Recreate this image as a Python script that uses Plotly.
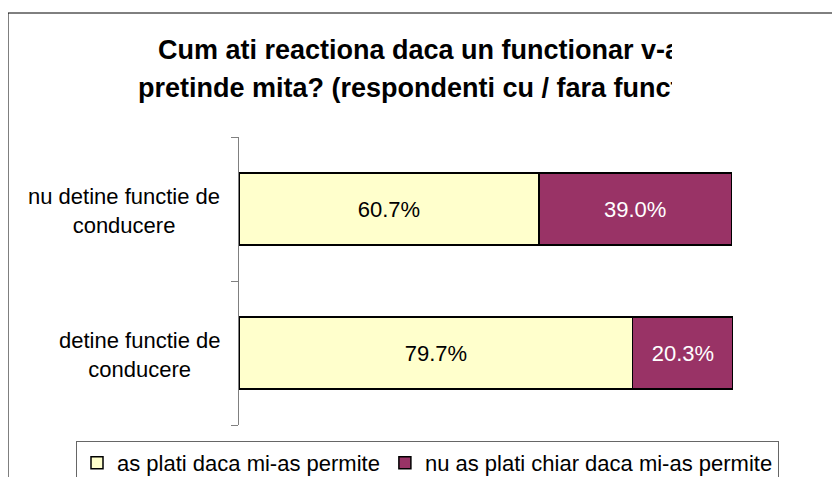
import plotly.graph_objects as go

# ---- data ----
categories = ["detine functie de<br>conducere", "nu detine functie de<br>conducere"]
series_names = ["as plati daca mi-as permite", "nu as plati chiar daca mi-as permite"]
vals_plati = [0.797, 0.607]
vals_nu = [0.203, 0.390]
title_lines = ["Cum ati reactiona daca un functionar v-ar",
               "pretinde mita? (respondenti cu / fara functie de conducere)"]

FONT = "Liberation Sans, Arial, sans-serif"
OFF = 8                      # page body margin of the html page
W, H = 840 - OFF, 477 - OFF  # figure fits exactly in the window
# plot area, given in screen pixels
L, R, T, B = 239 - OFF, 733 - OFF, 137 - OFF, 425 - OFF
PW, PH = R - L, B - T


def px(x):
    """screen x -> paper x"""
    return (x - OFF - L) / PW


def py(y):
    """screen y -> paper y"""
    return (B - (y - OFF)) / PH


fig = go.Figure()
fig.add_trace(go.Bar(
    y=categories, x=vals_plati, orientation="h", name=series_names[0],
    marker=dict(color="#FFFFCC", line=dict(color="black", width=1.5)),
    width=0.5, texttemplate="%{x:.1%}", textposition="inside",
    insidetextanchor="middle", textfont=dict(size=22, color="black", family=FONT),
))
fig.add_trace(go.Bar(
    y=categories, x=vals_nu, orientation="h", name=series_names[1],
    marker=dict(color="#993366", line=dict(color="black", width=1.5)),
    width=0.5, texttemplate="%{x:.1%}", textposition="inside",
    insidetextanchor="middle", textfont=dict(size=22, color="white", family=FONT),
))

annotations = []
# category labels (centered lines, right-anchored block)
for c in categories:
    annotations.append(dict(
        x=px(222), xref="paper", y=c, yref="y", xanchor="right", yanchor="middle",
        text=c, align="center", showarrow=False, yshift=-2,
        font=dict(size=22, color="black", family=FONT),
    ))
# title lines
annotations.append(dict(x=px(156), y=py(50), xref="paper", yref="paper",
                        xanchor="left", yanchor="middle", showarrow=False,
                        text="<b>" + title_lines[0] + "</b>",
                        font=dict(size=27, color="black", family=FONT)))
annotations.append(dict(x=px(136), y=py(88), xref="paper", yref="paper",
                        xanchor="left", yanchor="middle", showarrow=False,
                        text="<b>" + title_lines[1] + "</b>",
                        font=dict(size=27, color="black", family=FONT)))
# white cover that clips the title on the right, as in the original
annotations.append(dict(x=px(672), y=py(25), xref="paper", yref="paper",
                        xanchor="left", yanchor="top", showarrow=False,
                        text=" ", width=200, height=90, bgcolor="white",
                        borderpad=0, borderwidth=0))

shapes = [dict(type="rect", xref="paper", yref="paper",
               x0=px(8), y0=py(560), x1=px(900), y1=py(13),
               line=dict(color="black", width=1), fillcolor="rgba(0,0,0,0)",
               layer="below")]

fig.update_layout(
    width=W, height=H,
    margin=dict(l=L, r=W - R, t=T, b=H - B, pad=0, autoexpand=False),
    barmode="stack",
    plot_bgcolor="white", paper_bgcolor="white",
    font=dict(family=FONT, size=22, color="black"),
    showlegend=True,
    legend=dict(orientation="h", x=px(76), xanchor="left", y=py(441), yanchor="top",
                bordercolor="#666666", borderwidth=1, bgcolor="white",
                font=dict(size=22, family=FONT, color="black"), traceorder="normal"),
    xaxis=dict(range=[0, 1], showgrid=False, showline=False, showticklabels=False,
               zeroline=False, ticks=""),
    yaxis=dict(type="category", range=[-0.5, 1.5], showgrid=False, showline=True,
               linecolor="#808080", linewidth=1, ticks="outside", ticklen=7,
               tickcolor="#808080", tickwidth=1, tickson="boundaries",
               showticklabels=False, zeroline=False),
    annotations=annotations, shapes=shapes,
    hovermode=False,
)

fig.write_html("out.html")
